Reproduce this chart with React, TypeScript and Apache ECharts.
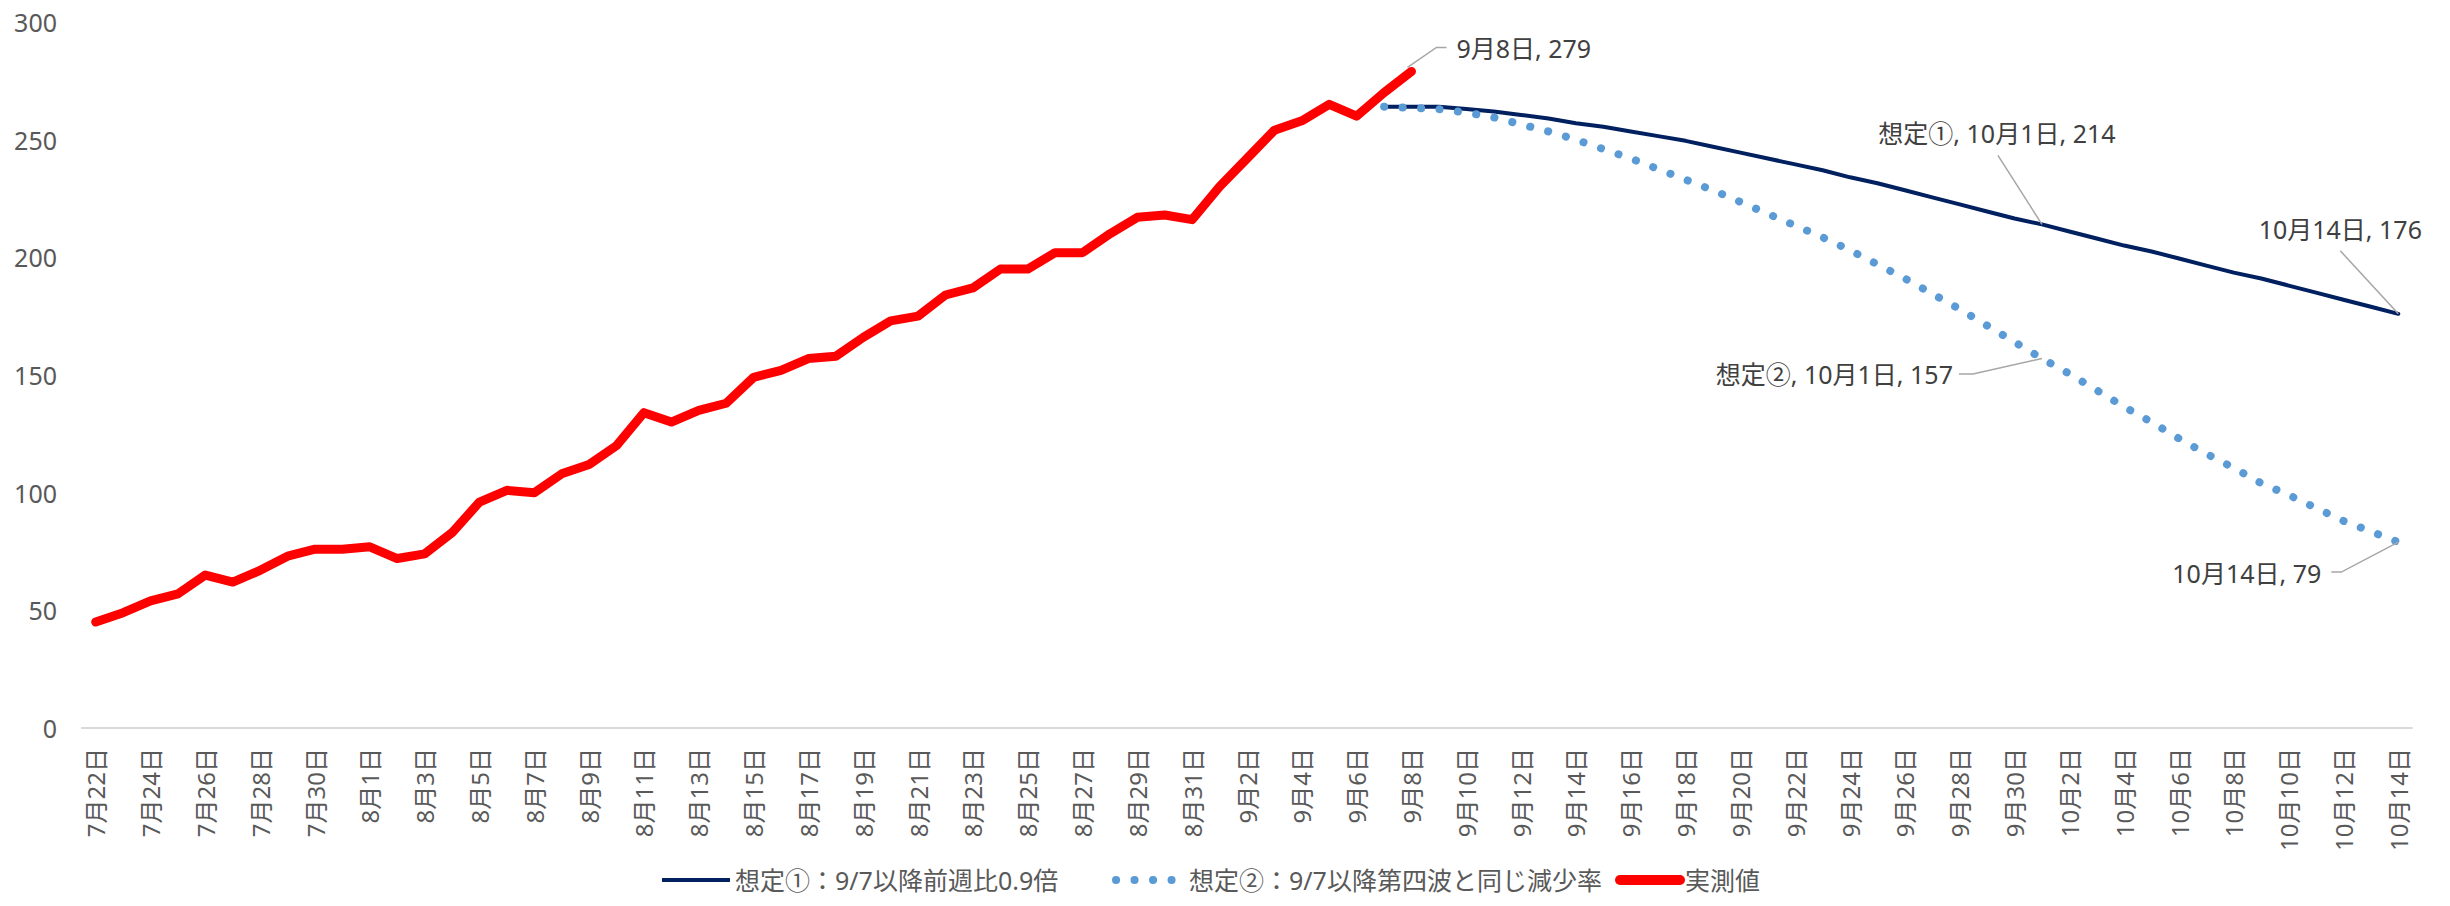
import React, { useEffect, useRef } from "react";
import * as echarts from "echarts";

// ---------- data ----------
const categories: string[] = [
  "7月22日", "7月23日", "7月24日", "7月25日", "7月26日", "7月27日", "7月28日", "7月29日", "7月30日", "7月31日",
  "8月1日", "8月2日", "8月3日", "8月4日", "8月5日", "8月6日", "8月7日", "8月8日", "8月9日", "8月10日",
  "8月11日", "8月12日", "8月13日", "8月14日", "8月15日", "8月16日", "8月17日", "8月18日", "8月19日", "8月20日",
  "8月21日", "8月22日", "8月23日", "8月24日", "8月25日", "8月26日", "8月27日", "8月28日", "8月29日", "8月30日",
  "8月31日", "9月1日", "9月2日", "9月3日", "9月4日", "9月5日", "9月6日", "9月7日", "9月8日", "9月9日",
  "9月10日", "9月11日", "9月12日", "9月13日", "9月14日", "9月15日", "9月16日", "9月17日", "9月18日", "9月19日",
  "9月20日", "9月21日", "9月22日", "9月23日", "9月24日", "9月25日", "9月26日", "9月27日", "9月28日", "9月29日",
  "9月30日", "10月1日", "10月2日", "10月3日", "10月4日", "10月5日", "10月6日", "10月7日", "10月8日", "10月9日",
  "10月10日", "10月11日", "10月12日", "10月13日", "10月14日",
];

// 実測値 7/22 – 9/8
const actualStart = "7月22日";
const actualValues: number[] = [
  45, 49, 54, 57, 65, 62, 67, 73, 76, 76,
  77, 72, 74, 83, 96, 101, 100, 108, 112, 120,
  134, 130, 135, 138, 149, 152, 157, 158, 166, 173,
  175, 184, 187, 195, 195, 202, 202, 210, 217, 218,
  216, 230, 242, 254, 258, 265, 260, 270, 279,
];

// 想定 9/7 – 10/14
const projectionStart = "9月7日";
const scenario1Values: number[] = [
  264, 264, 264, 263, 262, 260.5, 259, 257, 255.5, 253.5,
  251.5, 249.5, 247, 244.5, 242, 239.5, 237, 234, 231.5, 228.5,
  225.5, 222.5, 219.5, 216.5, 214, 211, 208, 205, 202.5, 199.5,
  196.5, 193.5, 191, 188, 185, 182, 179, 176,
];
const scenario2Values: number[] = [
  264, 263.5, 263, 261.5, 259.5, 256.5, 253.5, 250, 246, 242,
  237.5, 233, 228.5, 223.5, 218.5, 213.5, 208.5, 203, 197, 191,
  184.5, 178, 171, 164, 157, 150.5, 143.5, 136.5, 130, 123,
  116.5, 110.5, 104, 99, 93.5, 88, 83.5, 79,
];

const seriesNames = [
  "想定①：9/7以降前週比0.9倍",
  "想定②：9/7以降第四波と同じ減少率",
  "実測値",
];
const scenarioTags = ["想定①", "想定②"];

const yMin = 0;
const yMax = 300;
const yInterval = 50;

// ---------- style ----------
const FONT = '"Noto Sans", "Noto Sans CJK JP", sans-serif';
const AXIS_TEXT = "#595959";
const NOTE_TEXT = "#404040";
const LEADER = "#A6A6A6";
const C_NAVY = "#002060";
const C_BLUE = "#5B9BD5";
const C_RED = "#FF0000";
const DOTS = [0.1, 18.4];

function pad(values: number[], startLabel: string): (number | null)[] {
  const s = categories.indexOf(startLabel);
  return categories.map((_, i) =>
    i >= s && i - s < values.length ? values[i - s] : null
  );
}

export default function App() {
  const ref = useRef<HTMLDivElement>(null);

  useEffect(() => {
    if (!ref.current) return;
    const chart = echarts.init(ref.current, null, { renderer: "svg" });

    const s1 = pad(scenario1Values, projectionStart);
    const s2 = pad(scenario2Values, projectionStart);
    const act = pad(actualValues, actualStart);

    const legendBase = {
      top: 866,
      padding: 0,
      itemHeight: 24,
      itemStyle: { opacity: 0 },
      textStyle: { fontSize: 25, color: AXIS_TEXT, fontFamily: FONT, lineHeight: 28 },
    };

    const option: any = {
      animation: false,
      backgroundColor: "#ffffff",
      textStyle: { fontFamily: FONT },
      grid: { left: 82, right: 38, top: 22, bottom: 178, containLabel: false },
      legend: [
        {
          ...legendBase,
          left: 660,
          itemWidth: 68,
          data: [seriesNames[0]],
          lineStyle: { color: C_NAVY, width: 4, cap: "butt", type: "solid" },
        },
        {
          ...legendBase,
          left: 1112,
          itemWidth: 68,
          data: [seriesNames[1]],
          lineStyle: { color: C_BLUE, width: 8, cap: "round", type: DOTS },
        },
        {
          ...legendBase,
          left: 1615,
          itemWidth: 60,
          data: [seriesNames[2]],
          lineStyle: { color: C_RED, width: 10, cap: "round", type: "solid" },
        },
      ],
      xAxis: {
        type: "category",
        data: categories,
        boundaryGap: true,
        axisLine: { show: true, lineStyle: { color: "#D9D9D9", width: 2 } },
        axisTick: { show: false },
        axisLabel: {
          interval: 1,
          rotate: 90,
          margin: 20,
          fontSize: 24,
          color: AXIS_TEXT,
          fontFamily: FONT,
        },
        splitLine: { show: false },
      },
      yAxis: {
        type: "value",
        min: yMin,
        max: yMax,
        interval: yInterval,
        axisLine: { show: false },
        axisTick: { show: false },
        splitLine: { show: false },
        axisLabel: { fontSize: 25, color: AXIS_TEXT, fontFamily: FONT, margin: 25 },
      },
      series: [
        {
          name: seriesNames[0],
          type: "line",
          data: s1,
          symbol: "none",
          showSymbol: false,
          smooth: false,
          lineStyle: { color: C_NAVY, width: 4, cap: "round", join: "round" },
          itemStyle: { color: C_NAVY },
          z: 2,
        },
        {
          name: seriesNames[1],
          type: "line",
          data: s2,
          symbol: "none",
          showSymbol: false,
          smooth: false,
          lineStyle: { color: C_BLUE, width: 8, type: DOTS, cap: "round", join: "round" },
          itemStyle: { color: C_BLUE },
          z: 3,
        },
        {
          name: seriesNames[2],
          type: "line",
          data: act,
          symbol: "none",
          showSymbol: false,
          smooth: false,
          lineStyle: { color: C_RED, width: 9, cap: "round", join: "round" },
          itemStyle: { color: C_RED },
          z: 4,
        },
      ],
    };

    chart.setOption(option);

    // ---------- annotations (data labels with leader lines) ----------
    const lastActual = categories.indexOf(actualStart) + actualValues.length - 1;
    const ps = categories.indexOf(projectionStart);
    const oct1 = categories.indexOf("10月1日");
    const lastProj = ps + scenario1Values.length - 1;

    const notes = [
      {
        idx: lastActual,
        val: actualValues[actualValues.length - 1],
        text: `${categories[lastActual]}, ${actualValues[actualValues.length - 1]}`,
        line: [[-4, -4], [25, -24], [35, -24]],
        tx: 45, ty: -23, align: "left",
      },
      {
        idx: oct1,
        val: scenario1Values[oct1 - ps],
        text: `${scenarioTags[0]}, ${categories[oct1]}, ${scenario1Values[oct1 - ps]}`,
        line: [[0, 0], [-44, -69]],
        tx: -45, ty: -91, align: "center",
      },
      {
        idx: lastProj,
        val: scenario1Values[lastProj - ps],
        text: `${categories[lastProj]}, ${scenario1Values[lastProj - ps]}`,
        line: [[0, 0], [-58, -63]],
        tx: -58, ty: -85, align: "center",
      },
      {
        idx: oct1,
        val: scenario2Values[oct1 - ps],
        text: `${scenarioTags[1]}, ${categories[oct1]}, ${scenario2Values[oct1 - ps]}`,
        line: [[0, 0], [-69, 15.5], [-83, 15.5]],
        tx: -89, ty: 15.5, align: "right",
      },
      {
        idx: lastProj,
        val: scenario2Values[lastProj - ps],
        text: `${categories[lastProj]}, ${scenario2Values[lastProj - ps]}`,
        line: [[0, 0], [-57, 30], [-67, 30]],
        tx: -77, ty: 31, align: "right",
      },
    ];

    const elements: any[] = [];
    notes.forEach((n) => {
      const p = chart.convertToPixel({ xAxisIndex: 0, yAxisIndex: 0 }, [n.idx, n.val]) as number[];
      if (!p) return;
      elements.push({
        type: "polyline",
        silent: true,
        z: 10,
        shape: { points: n.line.map(([dx, dy]) => [p[0] + dx, p[1] + dy]) },
        style: { stroke: LEADER, lineWidth: 1.5, fill: null },
      });
      elements.push({
        type: "text",
        silent: true,
        z: 10,
        x: p[0] + n.tx,
        y: p[1] + n.ty,
        style: {
          text: n.text,
          fill: NOTE_TEXT,
          fontSize: 25,
          fontFamily: FONT,
          textAlign: n.align,
          textVerticalAlign: "middle",
          align: n.align,
          verticalAlign: "middle",
        },
      });
    });
    chart.setOption({ graphic: { elements } });

    return () => {
      chart.dispose();
    };
  }, []);

  return (
    <div
      ref={ref}
      style={{ position: "fixed", left: 0, top: 0, width: 2450, height: 906, background: "#fff" }}
    />
  );
}
